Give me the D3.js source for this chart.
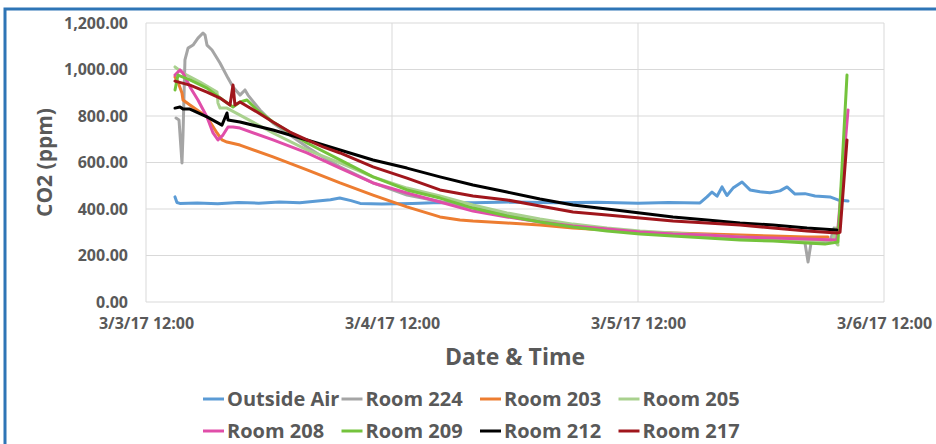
<!DOCTYPE html>
<html lang="en">
<head>
  <meta charset="UTF-8">
  <title>CO2 by Room</title>
  <script src="https://d3js.org/d3.v7.min.js"></script>
</head>
<body style="margin: 0; background: #fff;">
<svg id="chart" width="936" height="444"></svg>
<script>
  // time is hours after 3/3/17 12:00, value is CO2 ppm
  const outsideAir = [[2.83,452],[3.02,428],[3.3,424],[5,426],[7,423],[9,428],[11,425],[13,430],[15,427],[16.5,433],[18,440],[18.9,447],[20,436],[20.9,424],[23,422],[26,424],[28.7,428],[32,427],[36,430],[40,427],[44,429],[48,425],[51,428],[54.05,426],[54.73,452],[55.22,473],[55.71,455],[56.2,495],[56.68,458],[57.27,490],[58.15,516],[58.93,482],[59.9,474],[60.88,470],[61.85,478],[62.54,495],[63.32,464],[64.29,466],[65.27,456],[66.73,452],[67.51,439],[68.49,434]];
  const room224 = [[2.93,791],[3.22,783],[3.51,598],[3.61,720],[3.8,1041],[4.1,1092],[4.59,1105],[5.07,1135],[5.56,1157],[5.76,1148],[5.95,1105],[6.44,1084],[7.22,1028],[8,963],[8.49,925],[9.17,890],[9.66,912],[9.95,890],[11.12,826],[12.39,770],[14.05,718],[15.71,667],[17.27,624],[18.93,581],[22.15,512],[25.46,460],[28.68,432],[31.9,404],[35.22,374],[38.44,348],[41.66,327],[44.98,310],[48.2,297],[51.41,288],[54.73,280],[57.95,271],[61.17,267],[63.8,262],[64.29,254],[64.59,172],[64.88,254],[66.73,258],[67.12,318],[67.41,250]];
  const room203 = [[2.83,968],[3.12,946],[3.51,899],[3.61,869],[4.29,847],[5.95,796],[6.93,727],[7.41,697],[7.9,688],[9.17,675],[12.39,624],[15.71,568],[18.93,512],[22.15,460],[25.46,409],[28.68,366],[30.63,353],[31.9,348],[35.22,340],[38.44,331],[41.66,318],[44.98,310],[48.2,301],[51.41,297],[54.73,292],[57.95,288],[61.17,284],[64.49,280],[66.54,280]];
  const room205 = [[2.83,1011],[3.61,985],[5.27,946],[6.93,903],[7.02,856],[7.22,834],[7.9,834],[9.17,804],[12.39,727],[15.71,654],[18.93,598],[22.15,538],[25.46,490],[28.68,456],[31.9,417],[35.22,383],[38.44,357],[41.66,335],[44.98,318],[48.2,305],[51.41,297],[54.73,288],[57.95,280],[61.17,271],[64.49,262],[67.02,267],[67.32,318],[67.51,245]];
  const room208 = [[2.83,976],[3.32,998],[3.61,985],[4.29,925],[5.07,869],[5.95,796],[6.54,727],[7.02,697],[7.51,718],[8,753],[8.49,753],[9.17,748],[12.39,697],[15.71,641],[18.93,576],[22.15,512],[25.46,469],[28.68,430],[31.9,391],[35.22,366],[38.44,344],[41.66,327],[44.98,314],[48.2,301],[51.41,292],[54.73,288],[57.95,280],[61.17,275],[64.49,271],[67.41,267],[68.49,826]];
  const room209 = [[2.83,912],[3.12,976],[4.29,955],[5.95,920],[7.51,869],[8.49,839],[9.17,860],[9.85,869],[10.83,826],[12.39,774],[15.71,684],[18.93,611],[22.15,538],[25.46,482],[28.68,447],[31.9,404],[35.22,370],[38.44,344],[41.66,323],[44.98,305],[48.2,292],[51.41,284],[54.73,275],[57.95,267],[61.17,262],[64.49,254],[66.24,249],[67.51,258],[68.39,976]];
  const room212 = [[2.83,834],[3.32,839],[3.61,830],[4.29,830],[5.95,796],[7.41,761],[7.9,813],[8,783],[9.17,774],[12.39,740],[15.71,697],[18.93,654],[22.15,611],[25.46,576],[28.68,538],[31.9,503],[35.22,473],[38.44,443],[41.66,417],[44.98,400],[48.2,383],[51.41,366],[54.73,353],[57.95,340],[61.17,331],[64.49,318],[67.41,310]];
  const room217 = [[2.83,950],[4.29,933],[5.95,903],[7.22,877],[8.2,847],[8.49,933],[8.68,847],[9.17,860],[10.83,817],[12.39,774],[14.05,731],[15.71,697],[17.27,667],[18.93,641],[22.15,581],[25.46,533],[28.68,482],[31.9,456],[35.22,439],[38.44,413],[41.66,387],[44.98,374],[48.2,361],[51.41,348],[54.73,340],[57.95,331],[61.17,318],[64.49,305],[67.41,297],[67.71,300],[68.39,697]];

  const seriesNames = ["Outside Air", "Room 224", "Room 203", "Room 205", "Room 208", "Room 209", "Room 212", "Room 217"];
  const seriesData = [outsideAir, room224, room203, room205, room208, room209, room212, room217];
  const seriesColors = ["#5b9bd5", "#a5a5a5", "#ed7d31", "#a9d18e", "#e04ea9", "#74c33c", "#000000", "#a0161c"];
  const yTicks = [0, 200, 400, 600, 800, 1000, 1200];
  const xTickHours = [0, 24, 48, 72];

  const start = new Date(2017, 2, 3, 12, 0);
  const end = new Date(2017, 2, 6, 12, 0);
  const toDate = h => new Date(start.getTime() + h * 3600 * 1000);

  const margin = { top: 23, right: 52, bottom: 142, left: 146 };
  const width = 936, height = 444;
  const font = "'Open Sans', sans-serif";
  const textColor = "#595959";

  const svg = d3.select("#chart");

  // outer blue frame (only top and left show)
  svg.append("path")
    .attr("d", "M5,444 L5,9 L936,9")
    .attr("fill", "none")
    .attr("stroke", "#2e75b6")
    .attr("stroke-width", 3);

  const x = d3.scaleTime().domain([start, end]).range([margin.left, width - margin.right]);
  const y = d3.scaleLinear().domain([0, 1200]).range([height - margin.bottom, margin.top]);

  const xTicks = xTickHours.map(toDate);

  // grid
  svg.append("g")
    .selectAll("line")
    .data(yTicks)
    .join("line")
    .attr("x1", margin.left).attr("x2", width - margin.right)
    .attr("y1", d => y(d)).attr("y2", d => y(d))
    .attr("stroke", "#d9d9d9");

  svg.append("g")
    .selectAll("line")
    .data(xTicks)
    .join("line")
    .attr("x1", d => x(d)).attr("x2", d => x(d))
    .attr("y1", margin.top).attr("y2", height - margin.bottom)
    .attr("stroke", "#d9d9d9");

  // axes (labels only, Excel style)
  const yAxis = svg.append("g")
    .attr("transform", `translate(${margin.left - 18},0)`)
    .call(d3.axisLeft(y).tickValues(yTicks).tickFormat(d3.format(",.2f")).tickSize(0).tickPadding(0));
  yAxis.select(".domain").remove();
  yAxis.selectAll("text")
    .attr("font-family", font).attr("font-size", 16).attr("font-weight", "bold")
    .attr("fill", textColor);

  const xAxis = svg.append("g")
    .attr("transform", `translate(0,${height - margin.bottom + 16})`)
    .call(d3.axisBottom(x).tickValues(xTicks).tickFormat(d3.timeFormat("%-m/%-d/%y %H:%M")).tickSize(0).tickPadding(0));
  xAxis.select(".domain").remove();
  xAxis.selectAll("text")
    .attr("font-family", font).attr("font-size", 16).attr("font-weight", "bold")
    .attr("fill", textColor);

  // series lines
  const line = d3.line()
    .x(d => x(toDate(d[0])))
    .y(d => y(d[1]));

  svg.append("g")
    .selectAll("path")
    .data(seriesData)
    .join("path")
    .attr("d", line)
    .attr("fill", "none")
    .attr("stroke", (d, i) => seriesColors[i])
    .attr("stroke-width", 3)
    .attr("stroke-linejoin", "round")
    .attr("stroke-linecap", "round");

  // axis titles
  svg.append("text")
    .attr("x", (margin.left + width - margin.right) / 2)
    .attr("y", 365)
    .attr("text-anchor", "middle")
    .attr("font-family", font).attr("font-size", 23).attr("font-weight", "bold")
    .attr("fill", textColor)
    .text("Date & Time");

  svg.append("text")
    .attr("transform", `translate(52,${(margin.top + height - margin.bottom) / 2}) rotate(-90)`)
    .attr("text-anchor", "middle")
    .attr("font-family", font).attr("font-size", 21).attr("font-weight", "bold")
    .attr("fill", textColor)
    .text("CO2 (ppm)");

  // legend, 4 columns x 2 rows
  const legendX0 = 203, legendCol = 138.5, legendRows = [399, 431];
  const legend = svg.append("g")
    .selectAll("g")
    .data(seriesNames)
    .join("g")
    .attr("transform", (d, i) => `translate(${legendX0 + (i % 4) * legendCol},${legendRows[Math.floor(i / 4)]})`);

  legend.append("line")
    .attr("x1", 0).attr("x2", 21)
    .attr("stroke", (d, i) => seriesColors[i])
    .attr("stroke-width", 3);

  legend.append("text")
    .attr("x", 24)
    .attr("dy", "0.35em")
    .attr("font-family", font).attr("font-size", 20).attr("font-weight", "bold")
    .attr("fill", textColor)
    .text(d => d);
</script>
</body>
</html>
